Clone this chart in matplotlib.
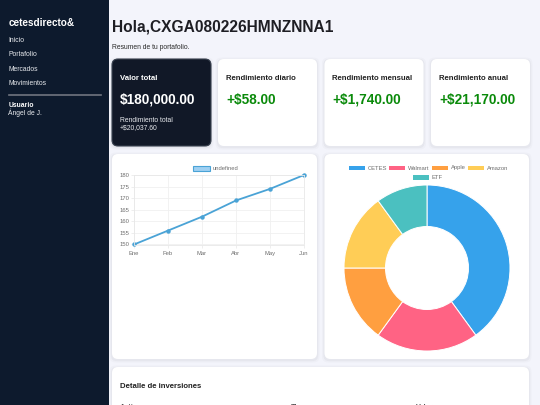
import matplotlib
matplotlib.use("Agg")
import matplotlib.pyplot as plt
from matplotlib.patches import FancyBboxPatch, Rectangle

W, H = 540, 405

nav_items = ["Inicio", "Portafolio", "Mercados", "Movimientos"]
card_titles = ["Rendimiento diario", "Rendimiento mensual", "Rendimiento anual"]
card_values = ["+$58.00", "+$1,740.00", "+$21,170.00"]
months = ["Ene", "Feb", "Mar", "Abr", "May", "Jun"]
line_values = [150, 156, 162, 169, 174, 180]
y_ticks = [150, 155, 160, 165, 170, 175, 180]
pie_labels = ["CETES", "Walmart", "Apple", "Amazon", "ETF"]
pie_values = [40, 20, 15, 15, 10]
pie_colors = ["#36A2EB", "#FF6384", "#FF9F40", "#FFCD56", "#4BC0C0"]
table_cols = ["Activo", "Tipo", "Valor"]

plt.rcParams["font.family"] = ["Liberation Sans", "DejaVu Sans"]

fig = plt.figure(figsize=(5.4, 4.05), dpi=100, facecolor="#f3f4fb")

# whole figure in pixels, y going down
bg = fig.add_axes([0, 0, 1, 1])
bg.set_xlim(0, W)
bg.set_ylim(H, 0)
bg.axis("off")


def card(x0, y0, x1, y1, color="white", edge="none", r=6):
    for off, a in ((2.5, 0.02), (1.2, 0.03)):
        bg.add_patch(FancyBboxPatch((x0 + r - off, y0 + r - off + 1), x1 - x0 - 2 * r + 2 * off,
                                    y1 - y0 - 2 * r + 2 * off,
                                    boxstyle="round,pad=%g,rounding_size=%g" % (r, r),
                                    fc="black", ec="none", alpha=a))
    bg.add_patch(FancyBboxPatch((x0 + r, y0 + r), x1 - x0 - 2 * r, y1 - y0 - 2 * r,
                                boxstyle="round,pad=%g,rounding_size=%g" % (r, r),
                                fc=color, ec=edge, lw=0.8))


def axes_px(x0, y0, x1, y1):
    return fig.add_axes([x0 / W, 1 - y1 / H, (x1 - x0) / W, (y1 - y0) / H])


# sidebar
bg.add_patch(Rectangle((0, 0), 109, H, fc="#0d1a2d", ec="none"))
bg.text(8.5, 22.5, "cetesdirecto&", color="white", fontsize=7.2, fontweight="bold", va="center")
for i, item in enumerate(nav_items):
    bg.text(8.5, 40.5 + i * 14.4, item, color="#e8eaee", fontsize=4.9, va="center")
bg.plot([8.5, 101], [95, 95], color="#70757f", lw=1.2)
bg.text(8.5, 105.5, "Usuario", color="white", fontsize=4.9, fontweight="bold", va="center")
bg.text(8.5, 113, "Ángel de J.", color="#e8eaee", fontsize=4.9, va="center")

# header
bg.text(112, 27, "Hola,CXGA080226HMNZNNA1", color="#1e1e24", fontsize=11.2, fontweight="bold", va="center")
bg.text(112, 47.5, "Resumen de tu portafolio.", color="#2a2a2a", fontsize=4.9, va="center")

# summary cards
card(112, 59, 211, 146, color="#111827", edge="#3a4250")
bg.text(119.5, 78.5, "Valor total", color="white", fontsize=5.6, fontweight="bold", va="center")
bg.text(119.5, 100, "$180,000.00", color="white", fontsize=9.8, fontweight="bold", va="center")
bg.text(119.5, 120, "Rendimiento total", color="#e8eaee", fontsize=4.9, va="center")
bg.text(119.5, 128, "+$20,037.60", color="#e8eaee", fontsize=4.9, va="center")

for x0, title, val in zip([218, 324.5, 431], card_titles, card_values):
    card(x0, 59, x0 + 99, 146)
    bg.text(x0 + 8, 78.5, title, color="#222222", fontsize=5.6, fontweight="bold", va="center")
    bg.text(x0 + 8, 100, val, color="#0a8a0a", fontsize=9.8, fontweight="bold", va="center")

# chart cards and details card
card(112, 154, 317, 359)
card(324.5, 154, 529, 359)
card(112, 367, 529, 420)
bg.text(119.5, 386.5, "Detalle de inversiones", color="#222222", fontsize=5.6, fontweight="bold", va="center")
# table header runs off the bottom edge, same as the reference
for cx, col in zip([119.5, 291, 416], table_cols):
    bg.text(cx, 407.5, col, color="#555555", fontsize=5.2, fontweight="bold", va="center", clip_on=True)

# line chart
ax = axes_px(134, 175, 304, 244.5)
ax.plot(range(len(months)), line_values, color="#4aa3d6", lw=1.3, marker="o", ms=2.2, clip_on=False)
ax.set_xlim(0, 5)
ax.set_ylim(150, 180)
ax.set_xticks(range(len(months)))
ax.set_xticklabels(months)
ax.set_yticks(y_ticks)
ax.grid(color="#f0f0f0", lw=0.6)
ax.tick_params(labelsize=4.2, colors="#6e6e6e", length=2, width=0.5, color="#e8e8e8", pad=1.5)
ax.tick_params(axis="x", pad=2.5)
ax.set_axisbelow(True)
ax.set_facecolor("white")
for s in ax.spines.values():
    s.set_color("#e8e8e8")
    s.set_linewidth(0.6)
bg.add_patch(Rectangle((193, 165.5), 17, 5, fc="#9fd0f2", ec="#4aa3d6", lw=0.8))
bg.text(213, 168, "undefined", color="#6e6e6e", fontsize=4.2, va="center")

# donut
pie_ax = axes_px(344, 185, 510, 351)
pie_ax.pie(pie_values, colors=pie_colors, startangle=90, counterclock=False, radius=1,
           wedgeprops=dict(width=0.5, edgecolor="white", linewidth=0.7))
pie_ax.set_xlim(-1, 1)
pie_ax.set_ylim(-1, 1)

# donut legend, boxes placed in pixels
leg_x = [348.7, 389, 431.5, 468, 413]
leg_y = [168, 168, 168, 168, 177.5]
for name, c, lx, ly in zip(pie_labels, pie_colors, leg_x, leg_y):
    bg.add_patch(Rectangle((lx, ly - 2.2), 16, 4.4, fc=c, ec="none"))
    bg.text(lx + 19, ly, name, color="#6e6e6e", fontsize=4.2, va="center")

fig.savefig("out.png", dpi=100, facecolor=fig.get_facecolor())
